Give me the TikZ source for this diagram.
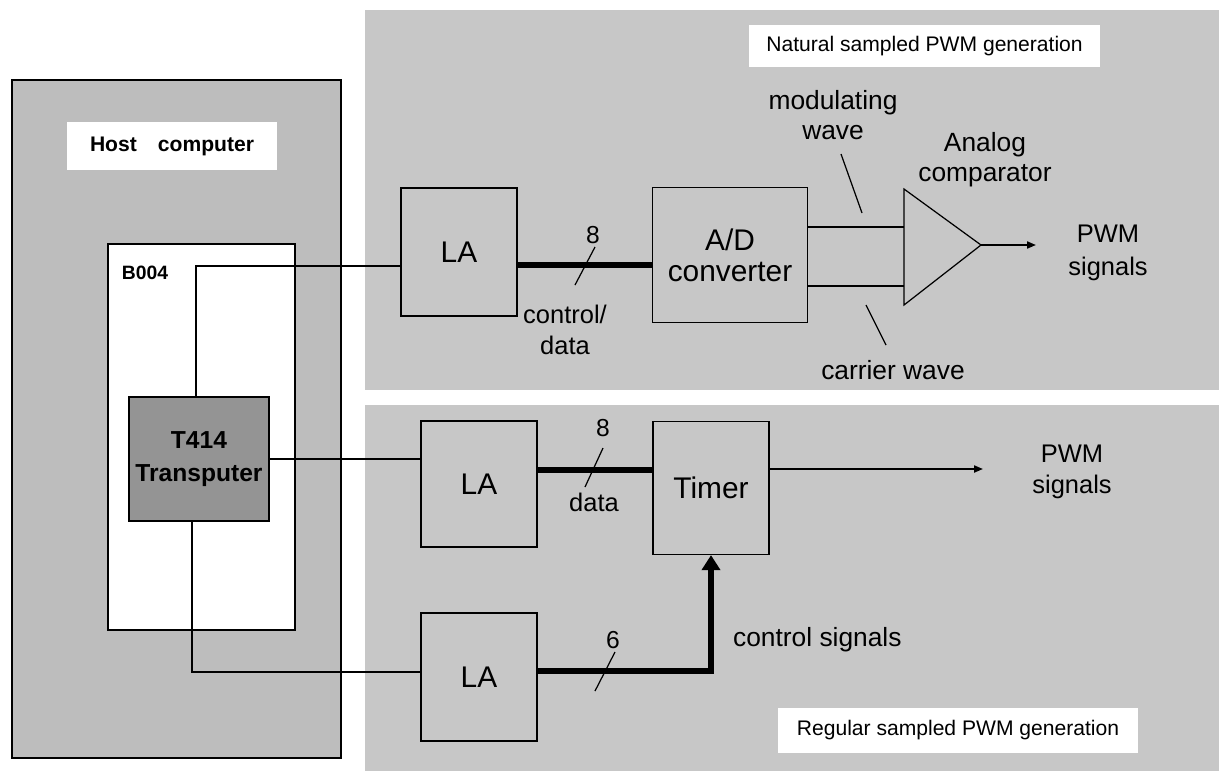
\documentclass[tikz,border=0pt]{standalone}
\usepackage{fontspec}
\setmainfont{Liberation Sans}
\usetikzlibrary{arrows.meta}
\definecolor{panelgray}{gray}{0.78}
\definecolor{hostgray}{gray}{0.74}
\definecolor{tpgray}{gray}{0.58}
\tikzset{
    block/.style={
        draw, line width=0.7pt, fill=panelgray, inner sep=0pt, align=center,
        font=\fontsize{17}{17.6}\selectfont % big box labels
    },
    bus/.style={line width=3.2pt},
    wire/.style={line width=0.7pt},
    out arrow/.style={line width=1.1pt, -{Triangle[length=0.18cm,width=0.14cm]}},
    lbl/.style={inner sep=1pt, align=center, font=\fontsize{15}{17}\selectfont},
    heading/.style={fill=white, inner sep=0pt, font=\fontsize{12}{14}\selectfont}
}

\begin{document}
\begin{tikzpicture}[x=0.02cm, y=-0.02cm]
\useasboundingbox (0,0) rectangle (1219,771);
% panels
\fill[panelgray] (365,10) rectangle (1219,390);
\fill[panelgray] (365,405) rectangle (1219,771);
\draw[fill=hostgray, line width=1.2pt] (12,80) rectangle (341,758);
\node[heading, minimum width=4.2cm, minimum height=0.96cm, font=\bfseries\fontsize{12}{14}\selectfont] (H) at (172,146) {Host\quad computer};
\draw[fill=white, line width=0.7pt] (108,244) rectangle (295,630);
\node[font=\bfseries\fontsize{11}{13}\selectfont] (B) at (145,273) {B004};
\node[block, fill=tpgray, minimum width=2.8cm, minimum height=2.48cm, font=\bfseries\fontsize{14}{19}\selectfont] (TP) at (199,459) {T414\\Transputer};
\node[heading, minimum width=7.02cm, minimum height=0.84cm] (NT) at (924.5,46) {Natural sampled PWM generation};
\node[heading, minimum width=7.2cm, minimum height=0.9cm] (RT) at (958,730.5) {Regular sampled PWM generation};
% boxes
\node[block, minimum width=2.32cm, minimum height=2.56cm] (LA1) at (459,252) {LA};
\node[block, minimum width=3.1cm, minimum height=2.7cm] (AD) at (730,255) {A/D\\converter};
\node[block, minimum width=2.32cm, minimum height=2.52cm] (LA2) at (479,484) {LA};
\node[block, minimum width=2.32cm, minimum height=2.66cm] (TM) at (711,488) {Timer};
\node[block, minimum width=2.32cm, minimum height=2.56cm] (LA3) at (479,677) {LA};
% comparator
\coordinate (C1) at (904,189);
\coordinate (C2) at (904,305);
\coordinate (C3) at (981,245);
\coordinate (MI) at (904,227);
\coordinate (CI) at (904,286);
\coordinate (O1) at (1036,245);
\coordinate (O2) at (983,469);
\draw[wire] (C1) -- (C3) -- (C2) -- cycle;
\draw[wire] (AD.east |- MI) -- (MI);
\draw[wire] (AD.east |- CI) -- (CI);
\draw[out arrow] (C3) -- (O1);
% host links
\draw[wire] ([xshift=-0.06cm]TP.north) |- ([yshift=-0.28cm]LA1.west);
\draw[wire] (TP.east) -- (TP.east -| LA2.west);
\draw[wire] ([xshift=-0.14cm]TP.south) |- ([yshift=0.1cm]LA3.west);
% buses
\draw[bus] ([yshift=-0.26cm]LA1.east) -- ([yshift=-0.26cm]LA1.east -| AD.west);
\draw[bus] ([yshift=0.28cm]LA2.east) -- ([yshift=0.28cm]LA2.east -| TM.west);
\draw[bus, -{Triangle[length=0.3cm,width=0.36cm]}] ([yshift=0.12cm]LA3.east) -| (TM.south);
\draw[out arrow] (TM.east |- O2) -- (O2);
% bus widths
\node[lbl, font=\fontsize{14}{16}\selectfont] (W1) at (593,235) {8};
\draw[wire] (595,247) -- (575,285);
\node[lbl, font=\fontsize{14.5}{18}\selectfont] (CD) at (565,330) {control/\\data};
\node[lbl, font=\fontsize{14}{16}\selectfont] (W2) at (603,428) {8};
\draw[wire] (603,448) -- (585,487);
\node[lbl, font=\fontsize{14.5}{18}\selectfont] (DA) at (594,502) {data};
\node[lbl, font=\fontsize{14}{16}\selectfont] (W3) at (613,640) {6};
\draw[wire] (615,652) -- (595,691);
% signal labels
\node[lbl] (MW) at (833,115) {modulating\\wave};
\draw[wire] (841,154) -- (862,213);
\node[lbl] (CW) at (893,370) {carrier wave};
\draw[wire] (866,305) -- (886,345);
\node[lbl] (AC) at (985,160) {Analog\\comparator};
\node[lbl, font=\fontsize{14.5}{18.5}\selectfont] (P1) at (1108,253) {PWM\\signals};
\node[lbl, font=\fontsize{14.5}{18}\selectfont] (P2) at (1072,472) {PWM\\signals};
\node[lbl, anchor=west] (CS) at (731,640) {control signals};
\end{tikzpicture}
\end{document}
